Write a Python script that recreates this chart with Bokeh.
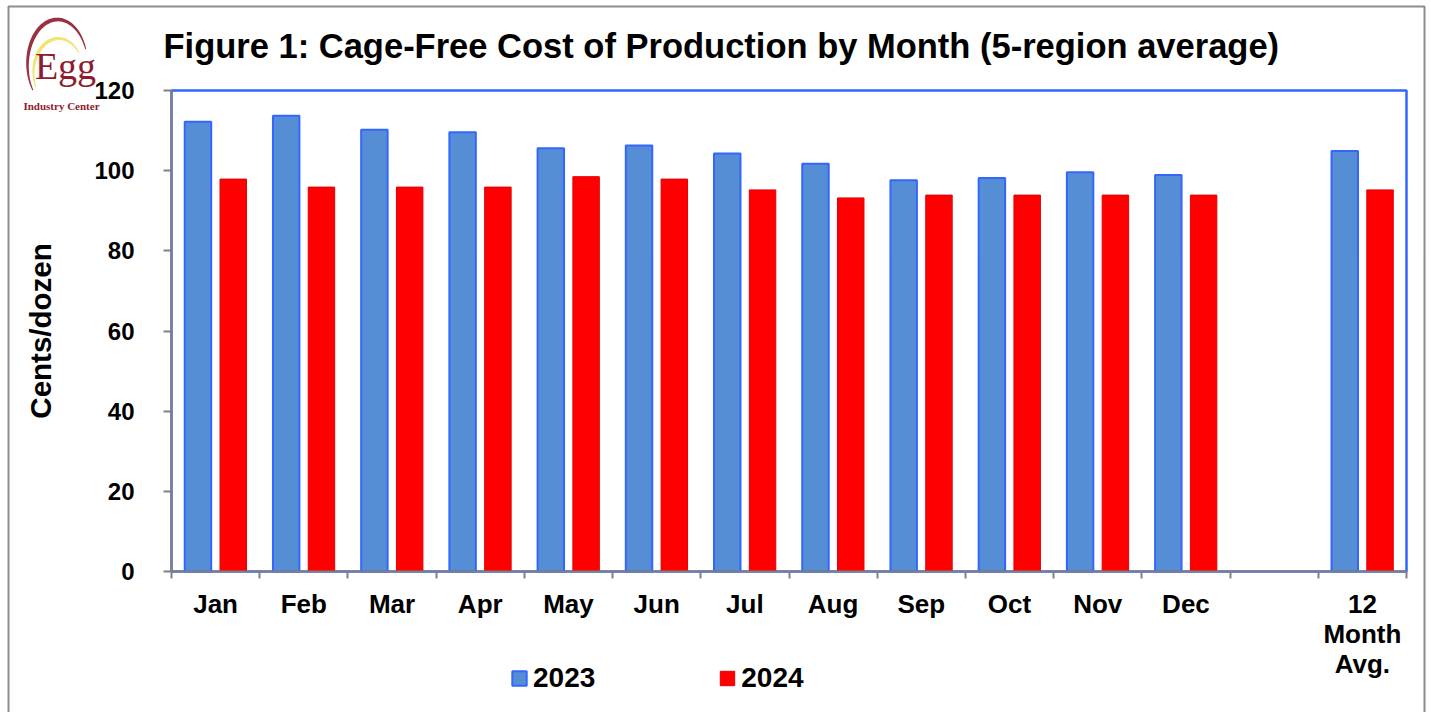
import numpy as np
from bokeh.plotting import figure
from bokeh.models import (ColumnDataSource, FixedTicker, Legend, LegendItem, Label,
                          PolyAnnotation, BoxAnnotation, Range1d)
from bokeh.embed import file_html
from bokeh.resources import INLINE

# ---------------- data ----------------
months = ["Jan", "Feb", "Mar", "Apr", "May", "Jun", "Jul", "Aug", "Sep", "Oct", "Nov", "Dec"]
avg_label = "12\nMonth\nAvg."
cost_2023 = [112.2, 113.7, 110.2, 109.6, 105.6, 106.3, 104.3, 101.7, 97.6, 98.2, 99.6, 98.9]
cost_2024 = [97.9, 95.9, 95.9, 95.9, 98.5, 97.9, 95.2, 93.2, 93.9, 93.9, 93.9, 93.9]
avg_2023 = 104.9
avg_2024 = 95.2
series_names = ["2023", "2024"]
y_ticks = [0, 20, 40, 60, 80, 100, 120]
title_text = "Figure 1: Cage-Free Cost of Production by Month (5-region average)"
y_title = "Cents/dozen"

# ---------------- layout ----------------
slots = months + [""] + [avg_label]
n = len(slots)
centers = [i + 0.5 for i in range(n)]
bar_x = [centers[i] for i, s in enumerate(slots) if s]
v23 = cost_2023 + [avg_2023]
v24 = cost_2024 + [avg_2024]
y_max = y_ticks[-1]

src = ColumnDataSource(dict(
    x23=[x - 0.2 for x in bar_x], x24=[x + 0.2 for x in bar_x], v23=v23, v24=v24))

FONT = "Liberation Sans"
GRAY = "#808080"

# canvas and plot-area geometry (pixels)
CW, CH = 1428, 712
PX_L, PX_R, PY_T, PY_B = 171, 1406, 90, 571
xpp = n / (PX_R - PX_L)
ypp = y_max / (PY_B - PY_T)

def dx(px):
    return (px - PX_L) * xpp

def dy(py):
    return (PY_B - py) * ypp

p = figure(width=CW, height=CH, title=None,
           x_range=Range1d(dx(0), dx(CW)), y_range=Range1d(dy(CH), dy(0)),
           output_backend="svg", toolbar_location=None,
           min_border_left=0, min_border_right=0, min_border_top=0, min_border_bottom=0)
p.background_fill_color = "white"
p.border_fill_color = "white"
p.outline_line_color = None
p.xgrid.visible = False
p.ygrid.visible = False

# outer chart border
p.add_layout(BoxAnnotation(left=dx(8), right=dx(1424), top=dy(6), bottom=dy(740),
                           fill_alpha=0, line_color="#8c8c8c", line_alpha=1.0,
                           line_width=2, level="underlay"))
# plot-area border
p.add_layout(BoxAnnotation(left=0, right=n, bottom=0, top=y_max,
                           fill_alpha=0, line_color="#3366FF", line_alpha=1.0,
                           line_width=2.5, level="underlay"))

r23 = p.vbar(x="x23", top="v23", width=0.3, source=src,
             fill_color="#558ED5", line_color="#3366FF", line_width=2)
r24 = p.vbar(x="x24", top="v24", width=0.3, source=src,
             fill_color="#FF0000", line_color="#E00000", line_width=1)

# y axis
ya = p.yaxis[0]
ya.fixed_location = 0
ya.bounds = (0, y_max)
ya.ticker = FixedTicker(ticks=y_ticks)
ya.axis_line_color = GRAY
ya.axis_line_width = 2
ya.major_tick_line_color = GRAY
ya.major_tick_line_width = 2
ya.major_tick_out = 8
ya.major_tick_in = 0
ya.minor_tick_out = 0
ya.minor_tick_in = 0
ya.major_label_text_font = FONT
ya.major_label_text_font_style = "bold"
ya.major_label_text_font_size = "24px"
ya.major_label_text_color = "black"
ya.major_label_standoff = 29
ya.axis_label = y_title
ya.axis_label_text_font = FONT
ya.axis_label_text_font_style = "bold"
ya.axis_label_text_font_size = "29.5px"
ya.axis_label_text_color = "black"
ya.axis_label_standoff = 34

# x axis
xa = p.xaxis[0]
xa.fixed_location = 0
xa.bounds = (0, n)
label_ticks = [centers[i] for i, s in enumerate(slots) if s]
xa.ticker = FixedTicker(ticks=label_ticks, minor_ticks=list(range(n + 1)))
xa.major_label_overrides = {centers[i]: s for i, s in enumerate(slots) if s}
xa.axis_line_color = GRAY
xa.axis_line_width = 2
xa.major_tick_out = 0
xa.major_tick_in = 0
xa.minor_tick_out = 7
xa.minor_tick_in = 0
xa.minor_tick_line_color = GRAY
xa.minor_tick_line_width = 2
xa.major_label_text_font = FONT
xa.major_label_text_font_style = "bold"
xa.major_label_text_font_size = "26px"
xa.major_label_text_line_height = 1.0
xa.major_label_text_color = "black"
xa.major_label_standoff = 10

# title
p.add_layout(Label(x=dx(163), y=dy(45), text=title_text, text_font=FONT,
                   text_font_style="bold", text_font_size="34.5px", text_color="black",
                   text_align="left", text_baseline="alphabetic"))

# legend
legend = Legend(items=[LegendItem(label=series_names[0], renderers=[r23]),
                       LegendItem(label=series_names[1], renderers=[r24])],
                orientation="horizontal", location=(510, CH - 694),
                glyph_width=18, glyph_height=18, label_standoff=5, spacing=123,
                padding=0, margin=0, border_line_color=None, background_fill_alpha=0,
                label_text_font=FONT, label_text_font_style="bold",
                label_text_font_size="28px", label_text_color="black")
p.add_layout(legend)

# ---------------- logo (decoration) ----------------
def band(cx, cy, rx, ry, a0, a1, t0, t1, k=60):
    ang = np.radians(np.linspace(a0, a1, k))
    th = t0 + (t1 - t0) * np.sin(np.linspace(0, np.pi, k))
    xo = cx + (rx + th / 2) * np.cos(ang)
    yo = cy - (ry + th / 2) * np.sin(ang)
    xi = cx + (rx - th / 2) * np.cos(ang)
    yi = cy - (ry - th / 2) * np.sin(ang)
    xs = list(xo) + list(xi[::-1])
    ys = list(yo) + list(yi[::-1])
    return [dx(v) for v in xs], [dy(v) for v in ys]

LOGO_RED = "#8E1B2E"
bx, by = band(57, 64, 30, 45, 215, 20, 1.0, 4.0)
p.add_layout(PolyAnnotation(xs=bx, ys=by, xs_units="data", ys_units="data",
                            fill_color=LOGO_RED, fill_alpha=0.9, line_color=None))
bx, by = band(58, 72, 25, 34, 205, 35, 1.0, 3.5)
p.add_layout(PolyAnnotation(xs=bx, ys=by, xs_units="data", ys_units="data",
                            fill_color="#EFE36A", fill_alpha=0.95, line_color=None))
p.add_layout(Label(x=dx(65), y=dy(65), text="Egg", text_font="Liberation Serif",
                   text_font_size="38px", text_color=LOGO_RED, text_align="center",
                   text_baseline="alphabetic"))
p.add_layout(Label(x=dx(61), y=dy(105), text="Industry Center", text_font="Liberation Serif",
                   text_font_style="bold", text_font_size="11px", text_color=LOGO_RED,
                   text_align="center", text_baseline="alphabetic"))

open("out.html", "w").write(file_html(p, INLINE))
